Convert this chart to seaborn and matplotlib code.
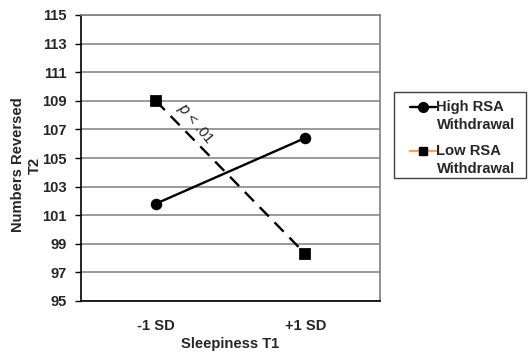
import matplotlib
matplotlib.use("Agg")
import matplotlib.pyplot as plt
from matplotlib.legend_handler import HandlerLine2D
from matplotlib.lines import Line2D
from matplotlib.patches import Rectangle
from matplotlib.ticker import FixedLocator
import pandas as pd
import seaborn as sns

# Simple-slopes data: numbers reversed at T2 by sleepiness level and RSA withdrawal
sleepiness = ["-1 SD", "+1 SD"]
high_rsa = [101.8, 106.4]
low_rsa = [109.0, 98.3]
group_names = ["High RSA\nWithdrawal", "Low RSA\nWithdrawal"]
y_ticks = [95, 97, 99, 101, 103, 105, 107, 109, 111, 113, 115]

df = pd.DataFrame({
    "Sleepiness": sleepiness * 2,
    "Reversed": high_rsa + low_rsa,
    "Group": [group_names[0]] * 2 + [group_names[1]] * 2,
})

sns.set_style("white")
plt.rcParams["font.family"] = ["Liberation Sans", "DejaVu Sans"]
FS = 10.6

W, H = 530, 354
fig = plt.figure(figsize=(W / 100, H / 100), dpi=100)
ax = fig.add_axes([81 / W, 1 - 301 / H, (380 - 81) / W, (301 - 15) / H])

sns.pointplot(
    data=df, x="Sleepiness", y="Reversed", hue="Group",
    order=sleepiness, hue_order=group_names,
    palette=["black", "black"], markers=["o", "s"], linestyles=["-", "--"],
    errorbar=None, markersize=7, linewidth=1.7, legend=False, ax=ax,
)
for line in ax.lines:
    if line.get_linestyle() == "--":
        line.set_dashes((5.5, 3.5))

ax.set_ylim(95, 115)
ax.set_xlim(-0.5, 1.5)
ax.set_yticks(y_ticks)
ax.set_yticklabels([str(t) for t in y_ticks], fontsize=FS, fontweight="bold")
ax.set_xticks([0, 1])
ax.set_xticklabels(sleepiness, fontsize=FS, fontweight="bold")
ax.xaxis.set_minor_locator(FixedLocator([-0.5, 0.5, 1.5]))
ax.tick_params(axis="x", which="major", length=0, pad=13)
ax.tick_params(axis="x", which="minor", length=4, width=1, color="black", direction="out")
ax.tick_params(axis="y", length=4, width=1, color="black", direction="out", pad=6, left=True)

ax.grid(axis="y", color="#7f7f7f", linewidth=1.1)
ax.set_axisbelow(True)
for side in ["left", "bottom"]:
    ax.spines[side].set_color("black")
    ax.spines[side].set_linewidth(1.2)
for side in ["top", "right"]:
    ax.spines[side].set_visible(True)
    ax.spines[side].set_color("#7f7f7f")
    ax.spines[side].set_linewidth(1.2)

ax.set_xlabel("Sleepiness T1", fontsize=FS, fontweight="bold", labelpad=3)
ax.set_ylabel("Numbers Reversed\nT2", fontsize=FS, fontweight="bold",
              linespacing=1.25)
ax.yaxis.set_label_coords((42 - 81) / 299, (301 - 165) / 286)

ax.text(0.265, 107.4, r"$\it{p}$ < .01", rotation=-50, fontsize=FS,
        ha="center", va="center", rotation_mode="anchor")


class FirstLineHandler(HandlerLine2D):
    """Line handle aligned with the first line of a two-line label."""

    def __init__(self, lift=6.3, **kw):
        super().__init__(**kw)
        self.lift = lift

    def create_artists(self, legend, orig_handle, xdescent, ydescent,
                       width, height, fontsize, trans):
        return super().create_artists(legend, orig_handle, xdescent,
                                      ydescent - 2 * self.lift, width, height,
                                      fontsize, trans)


# Legend box drawn as a figure-level rectangle, entries placed inside it
fig.patches.append(Rectangle(
    (394 / W, 1 - 178 / H), (526 - 394) / W, (178 - 92) / H,
    transform=fig.transFigure, facecolor="white", edgecolor="#404040",
    linewidth=1.0, zorder=5,
))
handles = [
    Line2D([0], [0], color="black", lw=1.7, marker="o", markersize=7),
    Line2D([0], [0], color="#f7a35c", lw=1.7, marker="s", markersize=6,
           markerfacecolor="black", markeredgecolor="black"),
]
leg = fig.legend(
    handles, group_names, loc="upper left", bbox_to_anchor=(410 / W, 1 - 100 / H),
    prop={"size": FS, "weight": "bold"}, frameon=False,
    handlelength=1.75, handletextpad=0.05, borderpad=0, labelspacing=0.85,
    borderaxespad=0, handler_map={Line2D: FirstLineHandler()},
)
leg.set_zorder(6)
for t in leg.get_texts():
    t.set_linespacing(1.32)

fig.savefig("out.png", dpi=100)
